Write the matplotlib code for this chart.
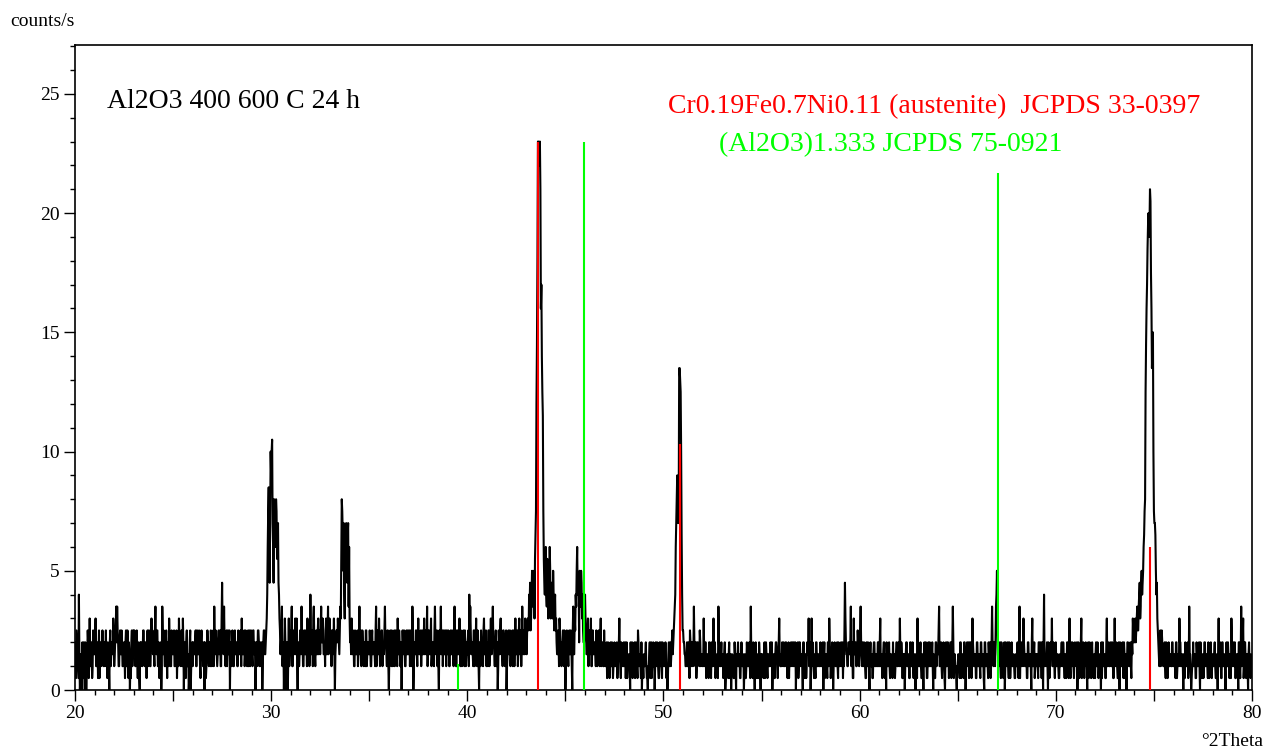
import numpy as np
import matplotlib.pyplot as plt
from matplotlib.ticker import MultipleLocator, FuncFormatter

plt.rcParams['font.family'] = 'Liberation Serif'

#############################################################################
# data, one string per degree, 20 chars per string
# scan_*     : steps at deg + 0.05*k
# scan_*_mid : steps in between (deg + 0.025 + 0.05*k)
# value = LEVELS.index(char) / 2  (counts/s come in 0.5 steps)
#############################################################################
LEVELS = "0123456789abcdefghijklmnopqrstuvwxyzABCDEFGHIJK"

scan_20_30 = ["41428 03024 03251 63424",
              "36243 14352 43213 05346",
              "24774 25342 41523 40153",
              "34251 30243 52415 34265",
              "42735 21307 34251 36424",
              "35241 36425 60415 20403",
              "24352 43415 42032 53424",
              "35734 24352 94734 25403",
              "34253 42435 63425 34253",
              "42530 43524 30453 58fbe"]
scan_20_30_mid = ["25313 10412 40342 24153",
                  "42315 32443 25342 42435",
                  "35452 43523 34251 32425",
                  "52434 14425 34332 52443",
                  "35452 43425 52434 24253",
                  "42453 24352 43342 31524",
                  "43425 35243 24413 42352",
                  "42453 35426 53425 43542",
                  "52434 25342 43534 25425",
                  "35342 25432 42534 6ch9k"]

scan_30_40 = ["ilcgf gbe85 47306 04063",
              "37254 36043 57425 34632",
              "83564 25364 37453 26374",
              "45436 04564 56gde 6dcd7",
              "65634 24353 74253 42534",
              "34253 42735 62453 37425",
              "04352 42536 34205 34253",
              "35427 04352 63425 36437",
              "45363 42735 40374 25345",
              "34253 42752 53624 35243"]
scan_30_40_mid = ["ke9ec fd963 52434 24325",
                  "52436 42325 34253 52453",
                  "45273 43535 54634 53536",
                  "52543 35453 7bfa8 ce9ec",
                  "43452 53424 35342 35243",
                  "52434 35253 43524 54352",
                  "35243 53424 52434 52435",
                  "42535 24534 43543 43542",
                  "53424 35442 25435 43524",
                  "52435 35425 34452 43524"]

scan_40_50 = ["35873 42536 24035 42635",
              "42536 37425 30536 42534",
              "03542 35426 35364 27356",
              "45689 6a8ab ftKJK wsnb8",
              "c7a8c 69687 54346 32435",
              "03425 34073 57c94 8a654",
              "85364 36253 42435 26342",
              "32423 14232 42313 62432",
              "24312 30242 31425 23102",
              "32410 24313 20423 14324"]
scan_40_50_mid = ["42554 35243 52424 35342",
                  "35243 54342 42453 35425",
                  "24353 42543 42535 45435",
                  "36575 8796d oAKIG ypf9a",
                  "8b69a 87a58 63525 43524",
                  "25343 52536 8a89a 79845",
                  "63425 42534 35243 42425",
                  "23142 32413 23424 31324",
                  "31423 24313 42314 32421",
                  "23212 31424 32342 12413"]

scan_50_60 = ["32410 32435 468ei erqk8",
              "54324 23543 27342 43523",
              "36242 31424 26312 37324",
              "21302 31420 32130 24213",
              "32031 42327 31204 23130",
              "23142 31324 20313 42362",
              "34232 42313 42342 03424",
              "23041 32463 06423 14232",
              "42304 23146 32403 32413",
              "24312 94324 37316 34253"]
scan_50_60_mid = ["23321 43243 57cgg frpd5",
                  "43232 41424 34214 32432",
                  "23413 24212 32423 14232",
                  "32413 23132 21423 32314",
                  "23212 32413 24231 12423",
                  "32314 23232 42314 31432",
                  "23424 31432 34234 32143",
                  "32423 14324 23212 42323",
                  "23431 32424 13324 23242",
                  "32435 63243 42413 42342"]

scan_60_70 = ["37342 31423 04213 42324",
              "26313 42032 41324 21342",
              "46231 20342 31424 13026",
              "32413 04231 42324 02143",
              "37241 23042 41343 71320",
              "23142 31402 34241 63231",
              "42314 23042 31342 73427",
              "a3241 32304 24132 42313",
              "24173 24632 31423 06242",
              "23142 34083 24032 46231"]
scan_60_70_mid = ["54234 21342 32314 23242",
                  "42324 13423 23212 32423",
                  "23413 32423 14232 32312",
                  "23212 32413 24232 31423",
                  "52323 41324 32414 43212",
                  "32413 24324 21432 42314",
                  "23242 31423 24214 42348",
                  "62324 21423 32413 23212",
                  "32414 32423 14232 42313",
                  "32424 13423 32413 32423"]

scan_70_80 = ["42313 24231 32416 13423",
              "32041 36241 32042 31423",
              "14232 30142 31624 24231",
              "62314 03241 32043 24135",
              "46575 8698a dgtyD CGzru",
              "fea95 34253 24131 42324",
              "23142 36423 01423 17302",
              "42313 24031 32423 13241",
              "32413 06231 42304 23136",
              "24213 30417 36241 30423"]
scan_70_80_mid = ["23212 32423 14232 42314",
                  "24232 41323 42314 23212",
                  "32413 24323 14232 32413",
                  "34212 42324 13242 32464",
                  "54657 97a9c fpwBE DFwtk",
                  "ed864 25342 32423 23242",
                  "32413 24232 31324 23212",
                  "23142 32423 14232 41323",
                  "23212 32414 23232 42314",
                  "32413 24232 41423 23212"]

# reference patterns (stick positions in deg 2theta, heights in counts/s)
red_pos = [43.61, 50.84, 74.79]     # Cr0.19Fe0.7Ni0.11 austenite
red_h = [23.0, 10.3, 6.0]
green_pos = [39.54, 45.96, 67.03]   # (Al2O3)1.333
green_h = [1.1, 23.0, 21.7]

#############################################################################

def decode(start, seg, offset):
    xs, ys = [], []
    for i, row in enumerate(seg):
        row = row.replace(" ", "")
        x0 = start + i
        step = 1.0 / len(row)
        xs.extend(x0 + offset * step * 2 + step * np.arange(len(row)))
        ys.extend(LEVELS.index(c) / 2 for c in row)
    return xs, ys

xs, ys = [], []
for start, seg, mid in [(20, scan_20_30, scan_20_30_mid), (30, scan_30_40, scan_30_40_mid),
                        (40, scan_40_50, scan_40_50_mid), (50, scan_50_60, scan_50_60_mid),
                        (60, scan_60_70, scan_60_70_mid), (70, scan_70_80, scan_70_80_mid)]:
    for s, off in [(seg, 0.0), (mid, 0.25)]:
        x, y = decode(start, s, off)
        xs.extend(x)
        ys.extend(y)

order = np.argsort(xs)
xs = np.asarray(xs)[order]
ys = np.asarray(ys)[order]

fig = plt.figure(figsize=(12.73, 7.51), dpi=100)
ax = fig.add_axes([0.0589, 0.0812, 0.9246, 0.8589])

ax.plot(xs, ys, color='black', lw=1.5, zorder=2)
ax.vlines(red_pos, 0, red_h, color='#ff0000', lw=1.5, zorder=3)
ax.vlines(green_pos, 0, green_h, color='#00ff00', lw=1.5, zorder=3)

ax.set_xlim(20, 80)
ax.set_ylim(0, 27.05)

ax.xaxis.set_major_locator(MultipleLocator(5))
ax.xaxis.set_minor_locator(MultipleLocator(1))
ax.xaxis.set_major_formatter(FuncFormatter(lambda v, p: f"{v:.0f}" if v % 10 == 0 else ""))
ax.yaxis.set_major_locator(MultipleLocator(5))
ax.yaxis.set_minor_locator(MultipleLocator(1))

ax.tick_params(which='major', direction='out', length=8, width=1.0, labelsize=14, pad=3)
ax.tick_params(which='minor', direction='out', length=3.5, width=1.0)
for sp in ax.spines.values():
    sp.set_linewidth(1.2)

ax.text(0.0272, 0.9023, "Al2O3 400 600 C 24 h", transform=ax.transAxes,
        fontsize=20, va='baseline', ha='left')
ax.text(0.504, 0.894, "Cr0.19Fe0.7Ni0.11 (austenite)  JCPDS 33-0397", transform=ax.transAxes,
        fontsize=20, va='baseline', ha='left', color='#ff0000')
ax.text(0.5474, 0.8357, "(Al2O3)1.333 JCPDS 75-0921", transform=ax.transAxes,
        fontsize=20, va='baseline', ha='left', color='#00ff00')

fig.text(10 / 1273, 1 - 21 / 751, "counts/s", fontsize=14, va='center', ha='left')
fig.text(1263 / 1273, 1 - 741 / 751, "°2Theta", fontsize=14, va='center', ha='right')

fig.savefig('out.png', dpi=100)
